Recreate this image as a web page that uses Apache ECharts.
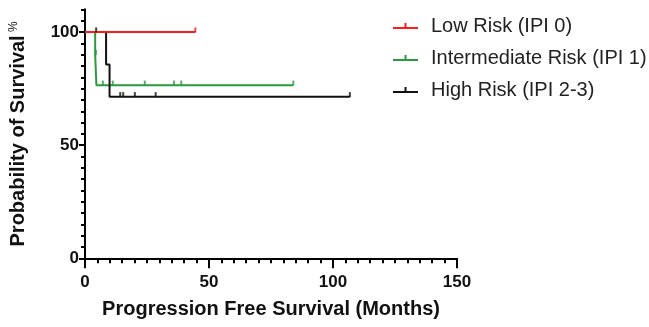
<!DOCTYPE html>
<html>
<head>
<meta charset="utf-8">
<script src="https://cdn.jsdelivr.net/npm/echarts@6/dist/echarts.min.js"></script>
<style>html,body{margin:0;padding:0;background:#fff}#c{width:649px;height:327px}</style>
</head>
<body>
<div id="c"></div>
<script>
// ---- data ----
const seriesNames = ['Low Risk (IPI 0)', 'Intermediate Risk (IPI 1)', 'High Risk (IPI 2-3)'];

const lowTimes = [0, 44.5];
const lowSurv = [100, 100];
const lowCensorTimes = [44.5];
const lowCensorSurv = [100];

const midTimes = [0, 4.1, 4.6, 84];
const midSurv = [100, 90, 76.5, 76.5];
const midCensorTimes = [4.4, 7.2, 11.2, 24.1, 35.9, 38.8, 84];
const midCensorSurv = [90, 76.5, 76.5, 76.5, 76.5, 76.5, 76.5];

const highTimes = [0, 8.5, 9.9, 106.8];
const highSurv = [100, 85.7, 71.4, 71.4];
const highCensorTimes = [4.5, 14.2, 15.4, 20.1, 28.5, 106.8];
const highCensorSurv = [100, 71.4, 71.4, 71.4, 71.4, 71.4];

const xTickLabels = [0, 50, 100, 150];
const yTickLabels = [0, 50, 100];
const xTitle = 'Progression Free Survival (Months)';
const yTitle = 'Probability of Survival';

// ---- chart ----
const colors = ['#ff1a1a', '#2a9a3c', '#111111'];
const FONT = 'Arial, "Liberation Sans", sans-serif';
const pair = (a, b) => a.map((t, i) => [t, b[i]]);
const icon = 'path://M0,6H25V8H0Z M11.5,2H13.5V6H11.5Z';

function curve(name, times, surv, color, z) {
  return {
    name: name, type: 'line', step: 'end', data: pair(times, surv),
    showSymbol: false, symbol: 'none', z: z, silent: true,
    lineStyle: { color: color, width: 2 }, itemStyle: { color: color },
    animation: false
  };
}
function censor(name, times, surv, color, z) {
  return {
    name: name, type: 'scatter', data: pair(times, surv),
    symbol: 'rect', symbolSize: [2, 5], symbolOffset: [0, -2.2], z: z,
    itemStyle: { color: color }, silent: true, animation: false
  };
}

const axisLineStyle = { show: true, lineStyle: { color: '#000', width: 2 } };
const chart = echarts.init(document.getElementById('c'), null, { renderer: 'canvas' });
chart.setOption({
  animation: false,
  grid: { left: 82, right: 192, top: 9.5, bottom: 68.7, containLabel: false },
  legend: {
    orient: 'vertical', left: 388, top: 11, itemGap: 12,
    itemWidth: 25, itemHeight: 6, icon: icon,
    data: seriesNames,
    textStyle: { fontSize: 20, color: '#222', fontFamily: FONT, padding: [0, 0, 0, 8] },
    selectedMode: false
  },
  xAxis: [
    {
      type: 'value', min: 0, max: 150, interval: 5, position: 'bottom',
      axisLine: axisLineStyle,
      axisTick: { show: true, length: 5, lineStyle: { color: '#000', width: 2 } },
      axisLabel: { show: false }, splitLine: { show: false }
    },
    {
      type: 'value', min: 0, max: 150, interval: 50, position: 'bottom',
      axisLine: axisLineStyle,
      axisTick: { show: true, length: 10, customValues: xTickLabels, lineStyle: { color: '#000', width: 2 } },
      axisLabel: { show: true, customValues: xTickLabels, margin: 16, fontSize: 17, fontWeight: 'bold', color: '#111', fontFamily: FONT },
      splitLine: { show: false },
      name: xTitle, nameLocation: 'middle', nameGap: 41,
      nameTextStyle: { fontSize: 20, fontWeight: 'bold', color: '#111', fontFamily: FONT }
    }
  ],
  yAxis: [
    {
      type: 'value', min: 0, max: 110, interval: 5, position: 'left',
      axisLine: axisLineStyle,
      axisTick: { show: true, length: 4, lineStyle: { color: '#000', width: 2 } },
      axisLabel: { show: false }, splitLine: { show: false }
    },
    {
      type: 'value', min: 0, max: 110, interval: 50, position: 'left',
      axisLine: axisLineStyle,
      axisTick: { show: true, length: 6, customValues: yTickLabels, lineStyle: { color: '#000', width: 2 } },
      axisLabel: { show: true, customValues: yTickLabels, margin: 6, fontSize: 17, fontWeight: 'bold', color: '#111', fontFamily: FONT },
      splitLine: { show: false },
      name: '{a|' + yTitle + '} {b|%}', nameLocation: 'middle', nameGap: 57, nameRotate: 90,
      nameTextStyle: {
        fontFamily: FONT, color: '#111',
        rich: {
          a: { fontSize: 20, fontWeight: 'bold', color: '#111', fontFamily: FONT },
          b: { fontSize: 12, color: '#111', fontFamily: FONT, verticalAlign: 'top' }
        }
      }
    }
  ],
  series: [
    curve(seriesNames[0], lowTimes, lowSurv, colors[0], 5),
    curve(seriesNames[1], midTimes, midSurv, colors[1], 3),
    curve(seriesNames[2], highTimes, highSurv, colors[2], 4),
    censor('low-censor', lowCensorTimes, lowCensorSurv, colors[0], 6),
    censor('mid-censor', midCensorTimes, midCensorSurv, colors[1], 6),
    censor('high-censor', highCensorTimes, highCensorSurv, colors[2], 6)
  ]
});
</script>
</body>
</html>
